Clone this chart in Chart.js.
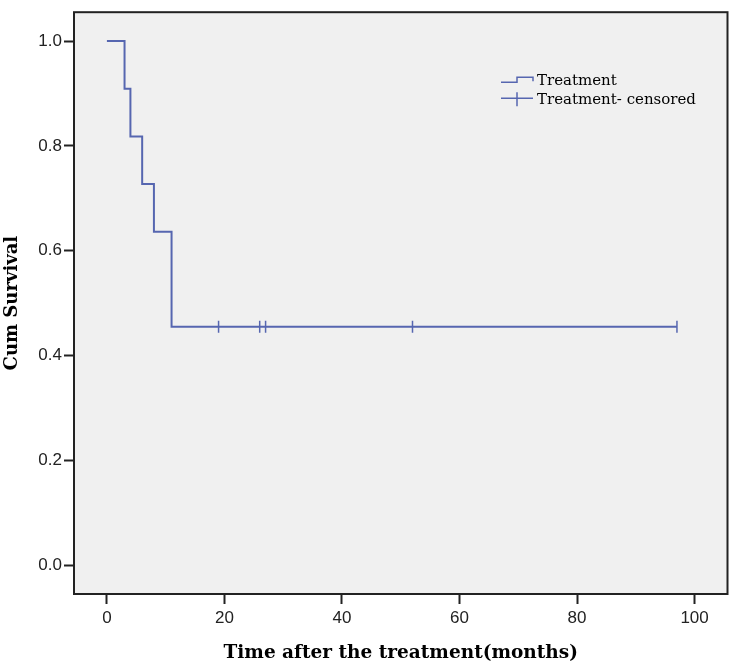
<!DOCTYPE html>
<html>
<head>
<meta charset="utf-8">
<script src="https://cdn.jsdelivr.net/npm/chart.js@4/dist/chart.umd.min.js"></script>
<style>
  body { margin: 0; background: #fff; }
  #wrap { width: 735px; height: 670px; }
</style>
</head>
<body>
<div id="wrap"><canvas id="kmChart" width="735" height="670"></canvas></div>
<script>
//--- data
var months = [0, 3, 4, 6, 8, 11, 19, 26, 27, 52, 97];
var survival = [1.0, 0.909, 0.818, 0.727, 0.636, 0.455, 0.455, 0.455, 0.455, 0.455, 0.455];
var censoredMonths = [19, 26, 27, 52, 97];
var censoredSurvival = [0.455, 0.455, 0.455, 0.455, 0.455];
var xTicks = [0, 20, 40, 60, 80, 100];
var yTicks = [0.0, 0.2, 0.4, 0.6, 0.8, 1.0];
var legendLabels = ['Treatment', 'Treatment- censored'];

var lineColor = '#5666b0';

var toPoints = function (xs, ys) {
    return xs.map(function (x, i) { return { x: x, y: ys[i] }; });
};

// gray panel + black frame like the SPSS output
var panelPlugin = {
    id: 'panel',
    beforeDraw: function (chart) {
        var ctx = chart.ctx, a = chart.chartArea;
        ctx.save();
        ctx.fillStyle = '#fff';
        ctx.fillRect(0, 0, chart.width, chart.height);
        ctx.fillStyle = '#f0f0f0';
        ctx.fillRect(a.left, a.top, a.right - a.left, a.bottom - a.top);
        ctx.restore();
    },
    afterDraw: function (chart) {
        var ctx = chart.ctx, a = chart.chartArea;
        ctx.save();
        ctx.strokeStyle = '#222';
        ctx.lineWidth = 2;
        ctx.strokeRect(a.left, a.top, a.right - a.left, a.bottom - a.top);

        // legend in the upper right of the panel
        var x0 = a.left + 427, y0 = a.top + 70;
        ctx.strokeStyle = lineColor;
        ctx.lineWidth = 1.5;
        ctx.beginPath();
        ctx.moveTo(x0, y0);
        ctx.lineTo(x0 + 16, y0);
        ctx.lineTo(x0 + 16, y0 - 5);
        ctx.lineTo(x0 + 32, y0 - 5);
        ctx.lineTo(x0 + 32, y0 - 1);
        ctx.stroke();
        ctx.beginPath();
        ctx.moveTo(x0, y0 + 16);
        ctx.lineTo(x0 + 32, y0 + 16);
        ctx.moveTo(x0 + 16, y0 + 10);
        ctx.lineTo(x0 + 16, y0 + 24);
        ctx.stroke();
        ctx.fillStyle = '#000';
        ctx.font = '15px "DejaVu Serif", serif';
        ctx.textBaseline = 'alphabetic';
        ctx.fillText(legendLabels[0], x0 + 36, y0 + 3);
        ctx.fillText(legendLabels[1], x0 + 36, y0 + 22);
        ctx.restore();
    }
};

var tickFont = { family: '"Liberation Sans", Arial, sans-serif', size: 17 };
var xTitleFont = { family: '"DejaVu Serif", serif', size: 18.5, weight: 'bold' };
var yTitleFont = { family: '"DejaVu Serif", serif', size: 18, weight: 'bold' };

var kmChart = new Chart(document.getElementById('kmChart').getContext('2d'), {
    type: 'line',
    data: {
        datasets: [
            {
                label: legendLabels[0],
                data: toPoints(months, survival),
                stepped: true,
                borderColor: lineColor,
                borderWidth: 2,
                pointRadius: 0,
                fill: false
            },
            {
                label: legendLabels[1],
                data: toPoints(censoredMonths, censoredSurvival),
                showLine: false,
                pointStyle: 'line',
                rotation: 90,
                pointRadius: 6,
                borderColor: lineColor,
                borderWidth: 1.5
            }
        ]
    },
    options: {
        responsive: false,
        animation: false,
        layout: { padding: { top: 5, right: 6, left: 0, bottom: 0 } },
        plugins: {
            legend: { display: false },
            tooltip: { enabled: false }
        },
        scales: {
            x: {
                type: 'linear',
                min: -5.6,
                max: 105.6,
                afterBuildTicks: function (scale) {
                    scale.ticks = xTicks.map(function (v) { return { value: v }; });
                },
                afterFit: function (scale) { scale.height = 76; },
                border: { display: false },
                grid: { drawOnChartArea: false, drawTicks: true, tickLength: 10, tickColor: '#222', tickWidth: 2 },
                ticks: { font: tickFont, color: '#222', padding: 4, maxRotation: 0 },
                title: { display: true, text: 'Time after the treatment(months)', font: xTitleFont, color: '#000', padding: { top: 4, bottom: 6 } }
            },
            y: {
                min: -0.055,
                max: 1.055,
                afterBuildTicks: function (scale) {
                    scale.ticks = yTicks.map(function (v) { return { value: v }; });
                },
                afterFit: function (scale) { scale.width = 74; },
                border: { display: false },
                grid: { drawOnChartArea: false, drawTicks: true, tickLength: 10, tickColor: '#222', tickWidth: 2 },
                ticks: {
                    font: tickFont,
                    color: '#222',
                    padding: 2,
                    callback: function (value) { return value.toFixed(1); }
                },
                title: { display: true, text: 'Cum Survival', font: yTitleFont, color: '#000', padding: { top: 2, bottom: 4 } }
            }
        }
    },
    plugins: [panelPlugin]
});
</script>
</body>
</html>
